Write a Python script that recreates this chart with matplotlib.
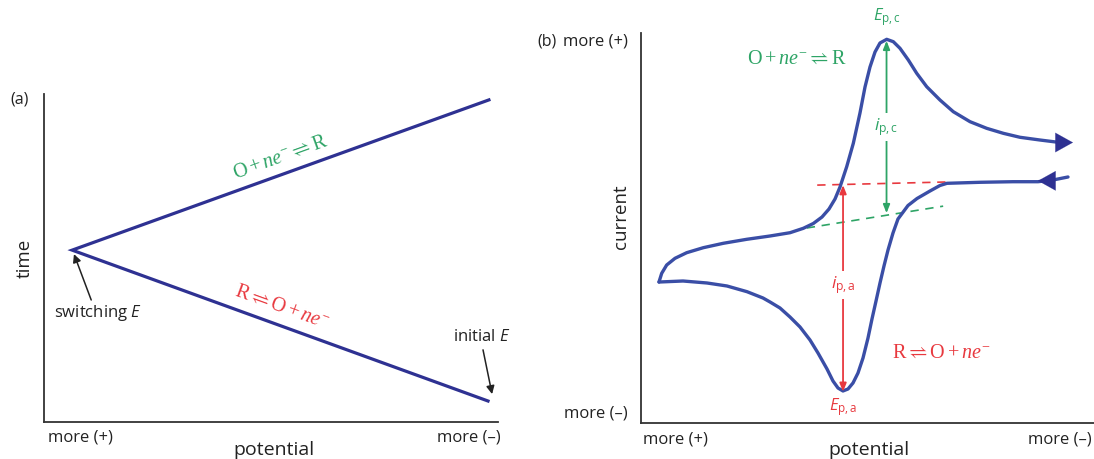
import numpy as np
import matplotlib
matplotlib.use("Agg")
import matplotlib.pyplot as plt

plt.rcParams['font.family'] = ['Open Sans', 'DejaVu Sans']
plt.rcParams['mathtext.fontset'] = 'custom'
plt.rcParams['mathtext.rm'] = 'Liberation Serif'
plt.rcParams['mathtext.it'] = 'Liberation Serif:italic'
plt.rcParams['mathtext.cal'] = 'Open Sans:italic'
plt.rcParams['mathtext.sf'] = 'Open Sans'
plt.rcParams['mathtext.fallback'] = 'stix'

# ---------------- data ----------------
# (a) potential-time waveform (normalised units)
a_potential = [0.978, 0.062, 0.980]
a_time = [0.064, 0.524, 0.982]
switch_pt = (0.066, 0.512)
initial_pt = (0.987, 0.085)

# (b) cyclic voltammogram (normalised units)
# scan 1: from initial E (right) towards switching E (left)
cv1_potential = [0.9426, 0.9095, 0.8764, 0.8212, 0.7483, 0.6755, 0.6600, 0.6380,
                 0.6093, 0.5894, 0.5673, 0.5563, 0.5453, 0.5364, 0.5276, 0.5188,
                 0.5099, 0.5011, 0.4901, 0.4790, 0.4680, 0.4570, 0.4459, 0.4349,
                 0.4238, 0.4106, 0.3907, 0.3731, 0.3510, 0.3289, 0.3068, 0.2848,
                 0.2693, 0.2340, 0.1898, 0.1457, 0.0927, 0.0397]
cv1_current = [0.6308, 0.6231, 0.6187, 0.6187, 0.6172, 0.6146, 0.6090, 0.5949,
               0.5756, 0.5577, 0.5231, 0.4872, 0.4436, 0.4026, 0.3590, 0.3128,
               0.2667, 0.2179, 0.1667, 0.1282, 0.1026, 0.0872, 0.0821, 0.0897,
               0.1077, 0.1385, 0.1795, 0.2128, 0.2462, 0.2718, 0.2949, 0.3103,
               0.3205, 0.3367, 0.3513, 0.3590, 0.3641, 0.3615]
# scan 2: from switching E back to the right
cv2_potential = [0.0397, 0.0457, 0.0567, 0.0751, 0.1009, 0.1375, 0.1817, 0.2333,
                 0.2848, 0.3289, 0.3583, 0.3803, 0.3996, 0.4150, 0.4283, 0.4393,
                 0.4541, 0.4687, 0.4834, 0.4945, 0.5055, 0.5166, 0.5276, 0.5424,
                 0.5570, 0.5717, 0.5901, 0.6086, 0.6307, 0.6600, 0.6894, 0.7263,
                 0.7631, 0.7998, 0.8366, 0.8808, 0.9249]
cv2_current = [0.3615, 0.3838, 0.4051, 0.4223, 0.4367, 0.4495, 0.4608, 0.4710,
               0.4795, 0.4879, 0.4992, 0.5115, 0.5282, 0.5487, 0.5744, 0.6051,
               0.6572, 0.7172, 0.7949, 0.8615, 0.9128, 0.9513, 0.9744, 0.9838,
               0.9777, 0.9608, 0.9308, 0.8967, 0.8623, 0.8282, 0.7982, 0.7726,
               0.7556, 0.7428, 0.7326, 0.7256, 0.7192]
arrow_fwd = ((0.9249, 0.7192), (0.9536, 0.7192))   # base, tip
arrow_rev = ((0.9095, 0.6210), (0.8764, 0.6210))   # base, tip

Epa = (0.446, 0.080)
Epc = (0.542, 0.980)
ipa_top = 0.610
ipc_bottom = 0.538
red_baseline = ([0.389, 0.675], [0.610, 0.618])
green_baseline = ([0.366, 0.667], [0.500, 0.556])

NAVY = '#2e3192'
CVBLUE = '#3a4ea6'
GREEN = '#2ea466'
RED = '#e8393f'
AXC = '#333333'
TXT = '#222222'

W, H = 1094, 459
fig = plt.figure(figsize=(W / 100, H / 100), dpi=100)

def px(x, y):
    return x / W, 1 - y / H

ax_a = fig.add_axes([44 / W, 37 / H, 454 / W, 328 / H])
ax_b = fig.add_axes([641 / W, 36 / H, 453 / W, 390 / H])

for ax in (ax_a, ax_b):
    ax.set_xlim(0, 1)
    ax.set_ylim(0, 1)
    ax.set_xticks([])
    ax.set_yticks([])
    for s in ('top', 'right'):
        ax.spines[s].set_visible(False)
    for s in ('left', 'bottom'):
        ax.spines[s].set_color(AXC)
        ax.spines[s].set_linewidth(1.3)
    ax.patch.set_alpha(0)

# ---------------- panel (a) ----------------
ax_a.plot(a_potential, a_time, color=NAVY, lw=2.3, solid_joinstyle='miter')

ang_up = np.degrees(np.arctan2(a_time[2] - a_time[1], a_potential[2] - a_potential[1]))
ang_dn = np.degrees(np.arctan2(a_time[0] - a_time[1], a_potential[0] - a_potential[1]))

ax_a.text(0.522, 0.808, r'$\mathrm{O} + ne^{-} \rightleftharpoons \mathrm{R}$',
          color=GREEN, fontsize=14.5, ha='center', va='center',
          rotation=ang_up, transform_rotates_text=True, rotation_mode='anchor')
ax_a.text(0.524, 0.351, r'$\mathrm{R} \rightleftharpoons \mathrm{O} + ne^{-}$',
          color=RED, fontsize=14.5, ha='center', va='center',
          rotation=ang_dn, transform_rotates_text=True, rotation_mode='anchor')

ax_a.annotate('', xy=switch_pt, xytext=(0.104, 0.372),
              arrowprops=dict(arrowstyle='-|>', color=TXT, lw=1.1,
                              mutation_scale=12, shrinkA=0, shrinkB=0))
ax_a.text(0.119, 0.332, r'switching $\mathcal{E}$', fontsize=12, color=TXT,
          ha='center', va='center')
ax_a.annotate('', xy=initial_pt, xytext=(0.967, 0.220),
              arrowprops=dict(arrowstyle='-|>', color=TXT, lw=1.1,
                              mutation_scale=12, shrinkA=0, shrinkB=0))
ax_a.text(0.965, 0.259, r'initial $\mathcal{E}$', fontsize=12, color=TXT,
          ha='center', va='center')

fig.text(*px(20, 100), '(a)', fontsize=11.5, ha='center', va='center', color=TXT)
fig.text(*px(25, 258), 'time', fontsize=13.5, rotation=90, ha='center', va='center', color=TXT)
fig.text(*px(80, 438), 'more (+)', fontsize=12, ha='center', va='center', color=TXT)
fig.text(*px(469, 438), 'more (–)', fontsize=12, ha='center', va='center', color=TXT)
fig.text(*px(274, 450), 'potential', fontsize=14, ha='center', va='center', color=TXT)

# ---------------- panel (b) ----------------
ax_b.plot(red_baseline[0], red_baseline[1], color=RED, lw=1.2, ls=(0, (5, 4)))
ax_b.plot(green_baseline[0], green_baseline[1], color=GREEN, lw=1.2, ls=(0, (5, 4)))

ax_b.plot(cv1_potential, cv1_current, color=CVBLUE, lw=2.4,
          solid_capstyle='round', solid_joinstyle='round')
ax_b.plot(cv2_potential, cv2_current, color=CVBLUE, lw=2.4,
          solid_capstyle='round', solid_joinstyle='round')

for base, tip in (arrow_fwd, arrow_rev):
    ax_b.annotate('', xy=tip, xytext=base,
                  arrowprops=dict(arrowstyle='-|>,head_length=0.9,head_width=0.5',
                                  color=NAVY, lw=0.1, mutation_scale=14,
                                  shrinkA=0, shrinkB=0))

# peak current double arrows
ax_b.annotate('', xy=(Epa[0], ipa_top), xytext=Epa,
              arrowprops=dict(arrowstyle='<|-|>,head_length=0.5,head_width=0.2',
                              color=RED, lw=1.3, mutation_scale=10, shrinkA=0, shrinkB=0))
ax_b.annotate('', xy=(Epc[0], ipc_bottom), xytext=Epc,
              arrowprops=dict(arrowstyle='<|-|>,head_length=0.5,head_width=0.2',
                              color=GREEN, lw=1.3, mutation_scale=10, shrinkA=0, shrinkB=0))

ax_b.text(Epa[0], 0.354, r'$\mathcal{i}_{\mathsf{p,a}}$', color=RED, fontsize=12.5,
          ha='center', va='center', bbox=dict(fc='white', ec='none', pad=2))
ax_b.text(Epc[0], 0.759, r'$\mathcal{i}_{\mathsf{p,c}}$', color=GREEN, fontsize=12.5,
          ha='center', va='center', bbox=dict(fc='white', ec='none', pad=2))
ax_b.text(Epa[0], 0.041, r'$\mathcal{E}_{\mathsf{p,a}}$', color=RED, fontsize=12,
          ha='center', va='center', clip_on=False)
ax_b.text(Epc[0], 1.040, r'$\mathcal{E}_{\mathsf{p,c}}$', color=GREEN, fontsize=12,
          ha='center', va='center', clip_on=False)

ax_b.text(0.344, 0.933, r'$\mathrm{O} + ne^{-} \rightleftharpoons \mathrm{R}$',
          color=GREEN, fontsize=14.5, ha='center', va='center')
ax_b.text(0.664, 0.179, r'$\mathrm{R} \rightleftharpoons \mathrm{O} + ne^{-}$',
          color=RED, fontsize=14.5, ha='center', va='center')

fig.text(*px(547, 42), '(b)', fontsize=11.5, ha='center', va='center', color=TXT)
fig.text(*px(628, 42), 'more (+)', fontsize=12, ha='right', va='center', color=TXT)
fig.text(*px(628, 413), 'more (–)', fontsize=12, ha='right', va='center', color=TXT)
fig.text(*px(621, 217), 'current', fontsize=13.5, rotation=90, ha='center', va='center', color=TXT)
fig.text(*px(675, 439), 'more (+)', fontsize=12, ha='center', va='center', color=TXT)
fig.text(*px(1092, 439), 'more (–)', fontsize=12, ha='right', va='center', color=TXT)
fig.text(*px(869, 450), 'potential', fontsize=14, ha='center', va='center', color=TXT)

fig.savefig('out.png', dpi=100, facecolor='white')
